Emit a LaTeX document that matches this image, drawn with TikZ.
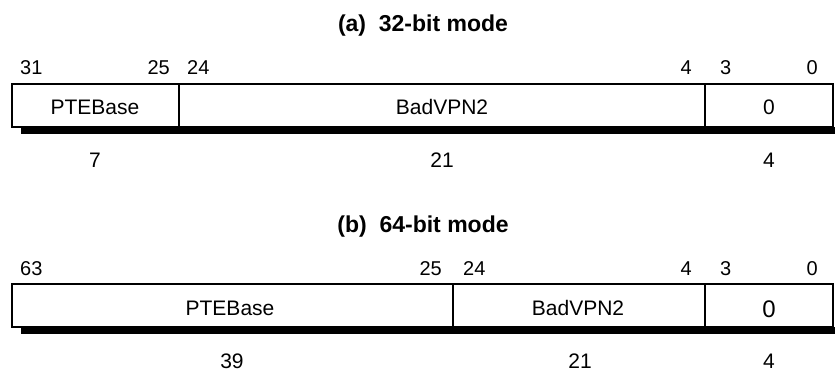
\documentclass[tikz,border=0pt]{standalone}
\usepackage{fontspec}
\setmainfont{Liberation Sans}
\begin{document}
\begin{tikzpicture}[x=1pt,y=-1pt,
  lbl/.style={inner sep=0pt,font=\fontsize{20}{24}\selectfont},
  fld/.style={inner sep=0pt,anchor=base,font=\fontsize{21}{25}\selectfont},
  ttl/.style={inner sep=0pt,anchor=base,font=\fontsize{23}{27}\selectfont\bfseries},
  regbox/.style={draw=black,line width=1.1pt,fill=white},
  divider/.style={draw=black,line width=1.3pt},
  shadow/.style={fill=black,draw=none}]
\useasboundingbox (0,0) rectangle (835,374);
% ---------- (a) 32-bit mode ----------
\node[ttl] (ta) at (423,32) {(a)\ \ 32-bit mode};
\fill[shadow] (21,127) rectangle (842,134);
\draw[regbox] (12,84) rectangle (833,127);
\coordinate (a1t) at (179,84); \coordinate (a1b) at (179,127);
\coordinate (a2t) at (705,84); \coordinate (a2b) at (705,127);
\draw[divider] (a1t) -- (a1b);
\draw[divider] (a2t) -- (a2b);
\node[lbl,anchor=base west] (a31) at (20,75) {31};
\node[lbl,anchor=base east] (a25) at (170,75) {25};
\node[lbl,anchor=base west] (a24) at (187,75) {24};
\node[lbl,anchor=base east] (a4) at (692,75) {4};
\node[lbl,anchor=base west] (a3) at (720,75) {3};
\node[lbl,anchor=base east] (a0) at (818,75) {0};
\node[fld] (apte) at (95,115) {PTEBase};
\node[fld] (abad) at (442,115) {BadVPN2};
\node[fld] (azero) at (769,115) {0};
\node[fld] (aw7) at (95,168) {7};
\node[fld] (aw21) at (442,168) {21};
\node[fld] (aw4) at (769,168) {4};
% ---------- (b) 64-bit mode ----------
\node[ttl] (tb) at (423,233) {(b)\ \ 64-bit mode};
\fill[shadow] (21,327) rectangle (842,334);
\draw[regbox] (12,284) rectangle (833,327);
\coordinate (b1t) at (453,284); \coordinate (b1b) at (453,327);
\coordinate (b2t) at (705,284); \coordinate (b2b) at (705,327);
\draw[divider] (b1t) -- (b1b);
\draw[divider] (b2t) -- (b2b);
\node[lbl,anchor=base west] (b63) at (20,275) {63};
\node[lbl,anchor=base east] (b25) at (442,275) {25};
\node[lbl,anchor=base west] (b24) at (463,275) {24};
\node[lbl,anchor=base east] (b4) at (692,275) {4};
\node[lbl,anchor=base west] (b3) at (720,275) {3};
\node[lbl,anchor=base east] (b0) at (818,275) {0};
\node[fld] (bpte) at (230,315) {PTEBase};
\node[fld] (bbad) at (578,315) {BadVPN2};
\node[fld,font=\fontsize{24}{28}\selectfont] (bzero) at (769,317) {0};
\node[fld] (bw39) at (232,368) {39};
\node[fld] (bw21) at (580,368) {21};
\node[fld] (bw4) at (769,368) {4};
\end{tikzpicture}
\end{document}
